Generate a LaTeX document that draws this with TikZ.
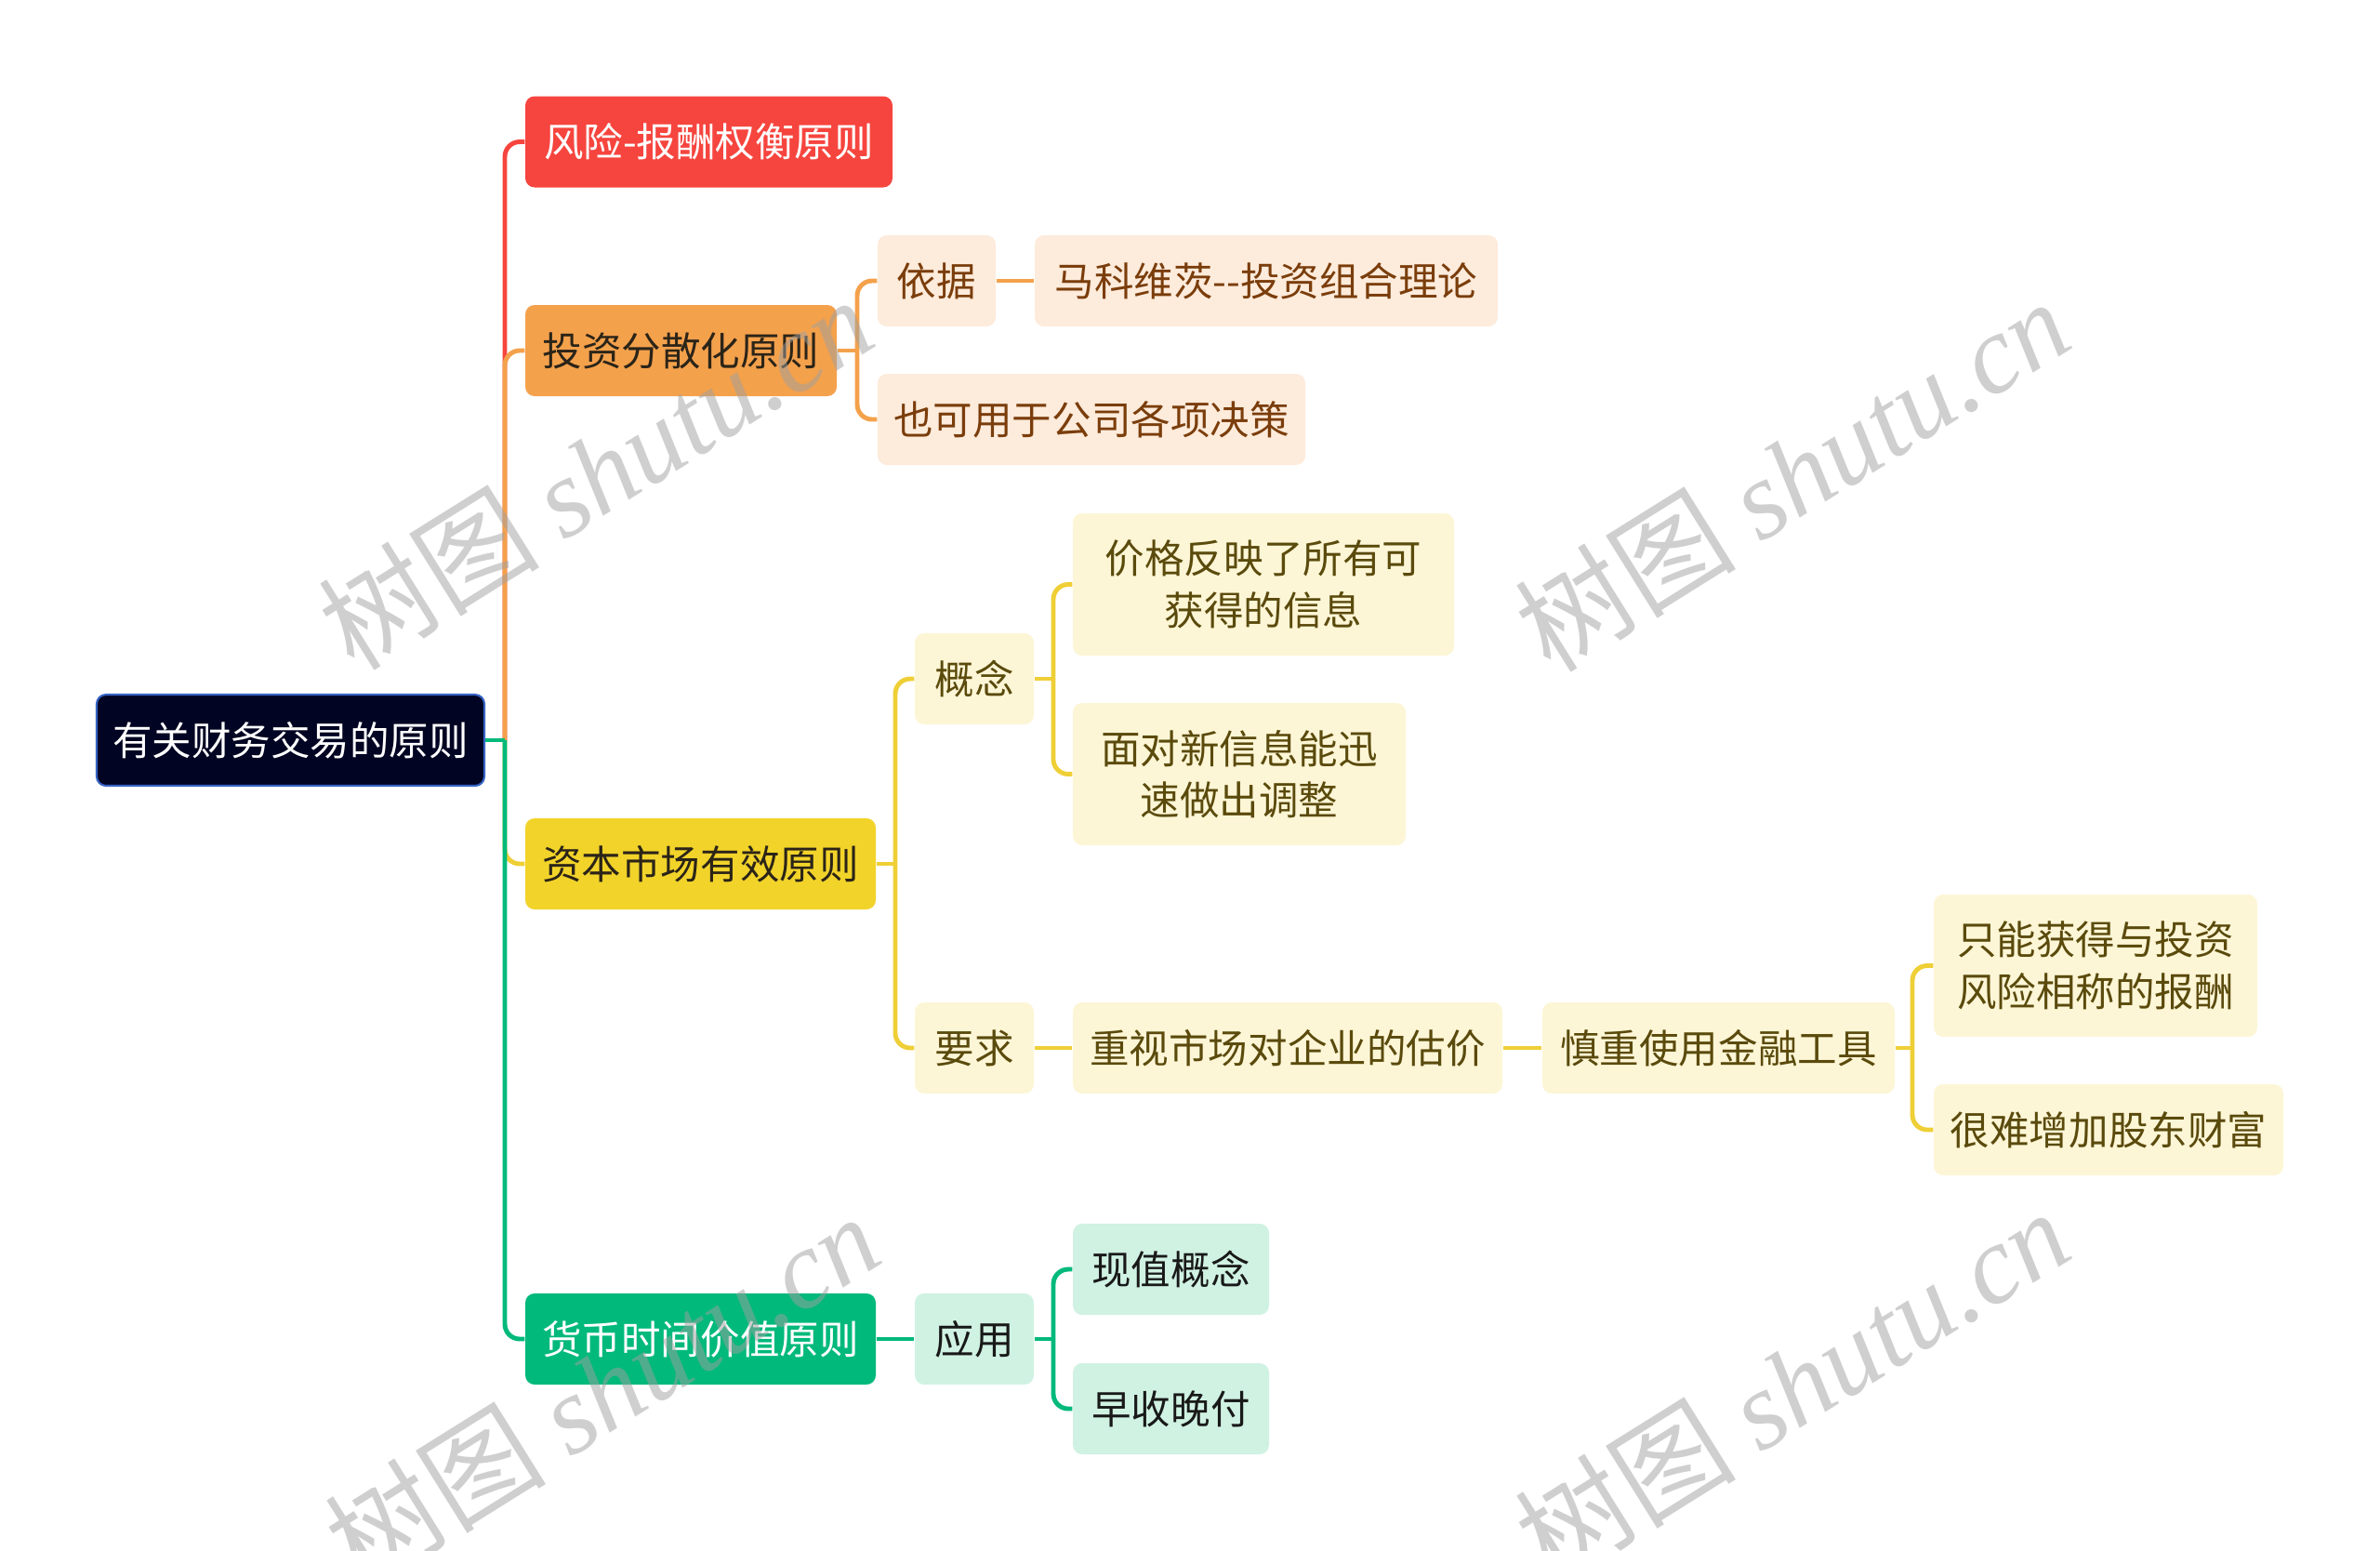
\documentclass[tikz,border=0pt]{standalone}
\usepackage{fontspec}
\setmainfont{Noto Sans CJK SC}
\newfontfamily\wmlatin{Liberation Serif}
\usetikzlibrary{positioning}
\definecolor{cNavy}{HTML}{010422}
\definecolor{cNavyEdge}{HTML}{3563C4}
\definecolor{cRed}{HTML}{F6453E}
\definecolor{cOrange}{HTML}{F4A14C}
\definecolor{cYellow}{HTML}{F2D32A}
\definecolor{cYellowLine}{HTML}{EFCF36}
\definecolor{cGreen}{HTML}{00B97B}
\definecolor{cOrangeLight}{HTML}{FDEBDB}
\definecolor{cYellowLight}{HTML}{FDF6D6}
\definecolor{cGreenLight}{HTML}{D0F2E3}
\definecolor{cBrown}{HTML}{7A3D0B}
\definecolor{cOlive}{HTML}{5A4A0C}
\definecolor{cDark}{HTML}{2B2418}
\definecolor{cMark}{HTML}{A0A0A0}

\begin{document}
\begin{tikzpicture}[
  box/.style={rounded corners=0.1cm, minimum height=0.98cm, inner xsep=0.05cm,
              align=center, font=\fontsize{12.1pt}{15.8pt}\selectfont},
  rootbox/.style={box, fill=cNavy, draw=cNavyEdge, line width=0.6pt, text=white},
  redbox/.style={box, fill=cRed, text=white},
  orangebox/.style={box, fill=cOrange, text=cDark},
  yellowbox/.style={box, fill=cYellow, text=cDark},
  greenbox/.style={box, fill=cGreen, text=white},
  orangesub/.style={box, fill=cOrangeLight, text=cBrown},
  yellowsub/.style={box, fill=cYellowLight, text=cOlive},
  greensub/.style={box, fill=cGreenLight, text=black!90},
  link/.style={line width=1.4pt},
  elbow/.style={link, rounded corners=0.16cm},
  watermark/.style={rotate=32, text=cMark, text opacity=0.5,
                    font=\fontsize{34pt}{34pt}\selectfont},
]
  \fill[white] (0,0) rectangle (25.6,-16.67);
  \useasboundingbox (0,0) rectangle (25.6,-16.67);

  % root and main branches
  \node[rootbox, minimum width=4.17cm] (root) at (3.125,-7.96) {有关财务交易的原则};
  \node[redbox, minimum width=3.95cm] (risk) at (7.625,-1.525) {风险-报酬权衡原则};
  \node[orangebox, minimum width=3.35cm] (div) at (7.325,-3.77) {投资分散化原则};
  \node[yellowbox, minimum width=3.77cm] (cap) at (7.535,-9.29) {资本市场有效原则};
  \node[greenbox, minimum width=3.77cm] (tvm) at (7.535,-14.40) {货币时间价值原则};

  % diversification
  \node[orangesub, minimum width=1.27cm] (basis) at (10.075,-3.02) {依据};
  \node[orangesub, minimum width=4.98cm] (markowitz) at (13.62,-3.02) {马科维茨-{}-投资组合理论};
  \node[orangesub, minimum width=4.60cm] (alsouse) at (11.74,-4.51) {也可用于公司各项决策};

  % efficient market
  \node[yellowsub, minimum width=1.28cm] (concept) at (10.48,-7.30) {概念};
  \node[yellowsub, minimum width=4.10cm, minimum height=1.53cm] (price) at (13.59,-6.285)
    {价格反映了所有可\\获得的信息};
  \node[yellowsub, minimum width=3.58cm, minimum height=1.53cm] (adjust) at (13.33,-8.325)
    {面对新信息能迅\\速做出调整};
  \node[yellowsub, minimum width=1.28cm] (require) at (10.48,-11.27) {要求};
  \node[yellowsub, minimum width=4.62cm] (value) at (13.85,-11.27) {重视市场对企业的估价};
  \node[yellowsub, minimum width=3.79cm] (careful) at (18.485,-11.27) {慎重使用金融工具};
  \node[yellowsub, minimum width=3.48cm, minimum height=1.53cm] (onlyret) at (22.54,-10.385)
    {只能获得与投资\\风险相称的报酬};
  \node[yellowsub, minimum width=3.76cm] (hard) at (22.68,-12.15) {很难增加股东财富};

  % time value
  \node[greensub, minimum width=1.28cm] (apply) at (10.48,-14.40) {应用};
  \node[greensub, minimum width=2.11cm] (pv) at (12.595,-13.65) {现值概念};
  \node[greensub, minimum width=2.11cm] (early) at (12.595,-15.15) {早收晚付};

  % connectors
  \coordinate (rj) at (5.43,-7.96);
  \foreach \n/\c in {risk/cRed, div/cOrange, cap/cYellowLine, tvm/cGreen} {
    \draw[link, draw=\c] (root.east) -- (rj);
    \draw[elbow, draw=\c] (rj) |- (\n.west);
  }

  \coordinate (dj) at (9.22,-3.77);
  \draw[link, draw=cOrange] (div.east) -- (dj);
  \foreach \n in {basis, alsouse}
    \draw[elbow, draw=cOrange] (dj) |- (\n.west);
  \draw[link, draw=cOrange] (basis) -- (markowitz);

  \coordinate (cj) at (9.63,-9.29);
  \draw[link, draw=cYellowLine] (cap.east) -- (cj);
  \foreach \n in {concept, require}
    \draw[elbow, draw=cYellowLine] (cj) |- (\n.west);

  \coordinate (kj) at (11.33,-7.30);
  \draw[link, draw=cYellowLine] (concept.east) -- (kj);
  \foreach \n in {price, adjust}
    \draw[elbow, draw=cYellowLine] (kj) |- (\n.west);

  \draw[link, draw=cYellowLine] (require) -- (value);
  \draw[link, draw=cYellowLine] (value) -- (careful);

  \coordinate (fj) at (20.57,-11.27);
  \draw[link, draw=cYellowLine] (careful.east) -- (fj);
  \foreach \n in {onlyret, hard}
    \draw[elbow, draw=cYellowLine] (fj) |- (\n.west);

  \draw[link, draw=cGreen] (tvm) -- (apply);
  \coordinate (aj) at (11.33,-14.40);
  \draw[link, draw=cGreen] (apply.east) -- (aj);
  \foreach \n in {pv, early}
    \draw[elbow, draw=cGreen] (aj) |- (\n.west);

  % watermarks
  \foreach \x/\y [count=\i] in {6.40/-5.08, 19.27/-5.10, 6.47/-14.94, 19.27/-14.89}
    \node[watermark] (wm\i) at (\x,\y) {树图 {\wmlatin\itshape shutu.cn}};
\end{tikzpicture}
\end{document}
